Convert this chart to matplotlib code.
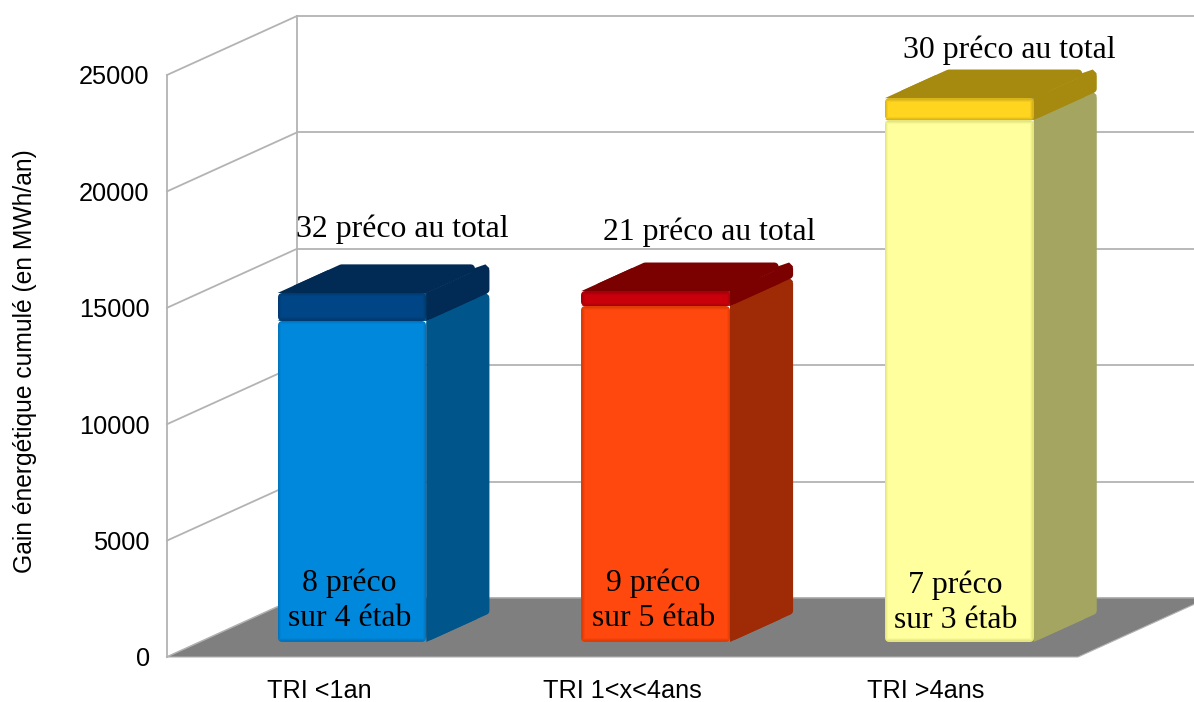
import matplotlib
matplotlib.use("Agg")
import matplotlib.pyplot as plt
from matplotlib.colors import to_rgb
from matplotlib.patches import Polygon

# donnees du graphique
categories = ["TRI <1an", "TRI 1<x<4ans", "TRI >4ans"]
gain_bas = [13790, 14430, 22420]
gain_haut = [1200, 640, 940]
texte_bas = ["8 préco\nsur 4 étab", "9 préco\nsur 5 étab", "7 préco\nsur 3 étab"]
texte_haut = ["32 préco au total", "21 préco au total", "30 préco au total"]
yticks = [0, 5000, 10000, 15000, 20000, 25000]

# couleurs (face, bord, cote)
couleur_bas = ["#0089dc", "#ff480e", "#ffff9e"]
bord_bas = ["#0075bd", "#e03c08", "#e6e680"]
cote_bas = ["#00558a", "#9e2a06", "#a3a560"]
couleur_haut = ["#004586", "#c9000b", "#ffd520"]
bord_haut = ["#003a70", "#a80009", "#d9b41a"]
cote_haut = ["#012a55", "#7b0000", "#a68a0f"]
gris = "#b3b3b3"

W, H = 1194, 702
fig = plt.figure(figsize=(W / 100, H / 100), dpi=100)
ax = fig.add_axes([167 / W, (H - 657) / H, 911 / W, 582 / H])
ax.set_xlim(-0.5, 2.5)
ax.set_ylim(0, 25000)

# profondeur de la vue 3D, en unites des axes
PX_X = 3 / 911
PX_Y = 25000 / 582
DX = 130 * PX_X
DY = 59 * PX_Y
D1, D2 = 0.255, 0.74
LARG = 0.49


def proj(x, y, d):
    return (x + d * DX, y + d * DY)


def retrait(pts, px):
    # decale un parallelogramme vers l'interieur de px pixels (cotes paralleles gardes)
    a = [(x / PX_X, y / PX_Y) for x, y in pts]
    u = (a[1][0] - a[0][0], a[1][1] - a[0][1])
    v = (a[3][0] - a[0][0], a[3][1] - a[0][1])
    aire = abs(u[0] * v[1] - u[1] * v[0])
    lu = (u[0] ** 2 + u[1] ** 2) ** 0.5
    lv = (v[0] ** 2 + v[1] ** 2) ** 0.5
    # fractions le long de u et v qui donnent px de marge
    fu = px * lv / aire
    fv = px * lu / aire
    res = []
    for su, sv in [(fu, fv), (1 - fu, fv), (1 - fu, 1 - fv), (fu, 1 - fv)]:
        res.append(((a[0][0] + su * u[0] + sv * v[0]) * PX_X,
                    (a[0][1] + su * u[1] + sv * v[1]) * PX_Y))
    return res


def poly(pts, col, lw=0.0, z=3):
    ax.add_patch(Polygon(pts, closed=True, facecolor=col, edgecolor=col if lw else "none",
                         linewidth=lw, joinstyle="round", clip_on=False, zorder=z))


def melange(c1, c2, t):
    a, b = to_rgb(c1), to_rgb(c2)
    return tuple(a[k] + (b[k] - a[k]) * t for k in range(3))


# sol et parois
ax.add_patch(Polygon([proj(-0.5, 0, 0), proj(2.5, 0, 0), proj(2.5, 0, 1), proj(-0.5, 0, 1)],
                     closed=True, facecolor="#7f7f7f", edgecolor=gris, linewidth=0.8,
                     clip_on=False, zorder=1))
for v in yticks:
    ax.plot(*zip(proj(-0.5, v, 0), proj(-0.5, v, 1)), color=gris, lw=1.3, clip_on=False, zorder=0)
    ax.plot(*zip(proj(-0.5, v, 1), proj(2.5, v, 1)), color=gris, lw=1.3, clip_on=False, zorder=0)
ax.plot([-0.5, -0.5], [0, 25000], color=gris, lw=1.3, clip_on=False, zorder=0)
ax.plot(*zip(proj(-0.5, 0, 1), proj(-0.5, 25000, 1)), color=gris, lw=1.3, clip_on=False, zorder=0)


def bloc(i, y0, y1, face, bord, cote, z, rayon=4):
    x0, x1 = i - LARG / 2, i + LARG / 2
    droite = [proj(x1, y0, D1), proj(x1, y0, D2), proj(x1, y1, D2), proj(x1, y1, D1)]
    dessus = [proj(x0, y1, D1), proj(x1, y1, D1), proj(x1, y1, D2), proj(x0, y1, D2)]
    devant = [proj(x0, y0, D1), proj(x1, y0, D1), proj(x1, y1, D1), proj(x0, y1, D1)]
    lw = rayon * 2 * 0.72
    poly(retrait(droite, rayon), cote, lw=lw, z=z)
    poly(retrait(dessus, rayon), cote, lw=lw, z=z)
    # partie avant sans arrondi, pour joindre le dessus, le cote et la face
    dm = D1 + 0.8 * (D2 - D1)
    poly([proj(x1, y0, D1), proj(x1, y0, dm), proj(x1, y1, dm), proj(x1, y1, D1)], cote, z=z)
    poly([proj(x0, y1, D1), proj(x1, y1, D1), proj(x1, y1, dm), proj(x0, y1, dm)], cote, z=z)
    # coin arriere droit coupe en biseau, large pour fermer l'encoche
    poly([proj(x1 - 2 * rayon * PX_X, y1, dm), proj(x1 - rayon * PX_X, y1, D2),
          proj(x1, y1 - rayon * PX_Y, D2), proj(x1, y1 - 2 * rayon * PX_Y, dm)], cote, z=z)
    # bord fonce puis degrade vers la couleur de la face
    poly(retrait(devant, rayon), bord, lw=lw, z=z + 1)
    for k, t in enumerate([0.35, 0.7, 1.0]):
        poly(retrait(devant, 1.5 + k), melange(bord, face, t), z=z + 1)


for i in range(len(categories)):
    haut = gain_bas[i] + gain_haut[i]
    bloc(i, 0, gain_bas[i], couleur_bas[i], bord_bas[i], cote_bas[i], 3)
    # le chapeau est mince sur la barre du milieu
    bloc(i, gain_bas[i], haut, couleur_haut[i], bord_haut[i], cote_haut[i], 5,
         rayon=min(4, gain_haut[i] / PX_Y / 3))

# textes dans et au dessus des barres
decal_bas = [1760, 1760, 1680]
decal_haut = [1510, 1320, 820]
decal_xb = [-0.0085, -0.008, -0.012]
decal_xh = [-0.042, -0.032, -0.042]
for i in range(len(categories)):
    xb, yb = proj(i, 0, D1)
    ax.text(xb + decal_xb[i], yb + decal_bas[i], texte_bas[i], ha="center", va="center",
            fontsize=22.9, family="Liberation Serif", linespacing=1.26, color="black", zorder=10)
    xh, yh = proj(i, gain_bas[i] + gain_haut[i], D2)
    ax.text(xh + decal_xh[i], yh + decal_haut[i], texte_haut[i], ha="center", va="center",
            fontsize=22.9, family="Liberation Serif", color="black", zorder=10)

# axes
for s in ax.spines.values():
    s.set_visible(False)
ax.patch.set_visible(False)
ax.set_xticks(range(len(categories)))
ax.set_xticklabels(categories, family="Liberation Sans", fontsize=18.2)
ax.set_yticks(yticks)
ax.set_yticklabels([str(v) for v in yticks], family="Liberation Sans", fontsize=18.3)
ax.tick_params(axis="x", length=0, pad=16)
ax.tick_params(axis="y", length=0, pad=12.5)
ax.set_ylabel("Gain énergétique cumulé (en MWh/an)", family="Liberation Sans", fontsize=17.75)
ax.yaxis.set_label_coords(-130 / 911, (657 - 361) / 582)

fig.savefig("out.png", dpi=100, facecolor="white")
